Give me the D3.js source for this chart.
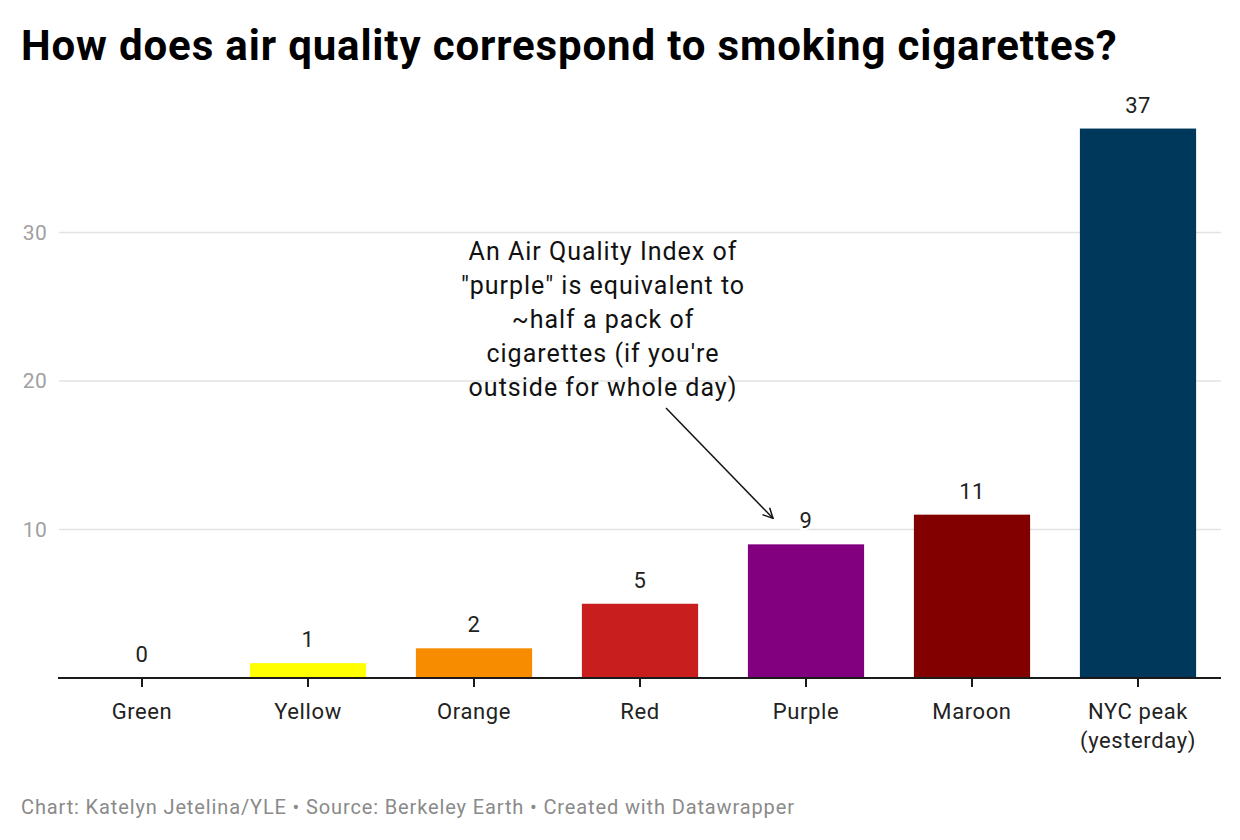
<!DOCTYPE html>
<html>
<head>
<meta charset="utf-8">
<script src="https://cdn.jsdelivr.net/npm/d3@7"></script>
<style>
  body { margin: 0; background: #fff; }
  svg text { font-family: Roboto, "Noto Sans", sans-serif; }
</style>
</head>
<body>
<svg id="chart" width="1240" height="840"></svg>
<script>
const categories = ["Green", "Yellow", "Orange", "Red", "Purple", "Maroon", "NYC peak\n(yesterday)"];
const values = [0, 1, 2, 5, 9, 11, 37];
const barColors = ["#2e9e44", "#ffff00", "#f88c00", "#c81e1e", "#820080", "#820000", "#00385c"];
const yTicks = [10, 20, 30];
const titleText = "How does air quality correspond to smoking cigarettes?";
const annotationLines = ["An Air Quality Index of", "\"purple\" is equivalent to", "~half a pack of", "cigarettes (if you're", "outside for whole day)"];
const footerText = "Chart: Katelyn Jetelina/YLE \u2022 Source: Berkeley Earth \u2022 Created with Datawrapper";

const svg = d3.select("#chart");
const left = 59, right = 1221, base = 678;

const x = d3.scaleBand().domain(categories).range([left, right]).paddingInner(0.3).paddingOuter(0.15);
const y = d3.scaleLinear().domain([0, 37]).range([base, base - 37 * 14.85]);

// title
svg.append("text").attr("x", 21).attr("y", 60)
  .attr("font-size", 42).attr("font-weight", 700).attr("fill", "#000")
  .attr("letter-spacing", 0.85)
  .text(titleText);

// gridlines
svg.append("g").selectAll("line").data(yTicks).join("line")
  .attr("x1", left).attr("x2", 1221)
  .attr("y1", d => y(d)).attr("y2", d => y(d))
  .attr("stroke", "#e3e3e3").attr("stroke-width", 1.5);

// y labels
svg.append("g").selectAll("text").data(yTicks).join("text")
  .attr("x", 47).attr("y", d => y(d)).attr("dy", "0.35em")
  .attr("text-anchor", "end").attr("font-size", 21).attr("fill", "#a0a0a0")
  .attr("letter-spacing", 0.3)
  .text(d => d);

// bars
svg.append("g").selectAll("rect").data(values).join("rect")
  .attr("x", (d, i) => x(categories[i]))
  .attr("width", x.bandwidth())
  .attr("y", d => y(d))
  .attr("height", d => base - y(d))
  .attr("fill", (d, i) => barColors[i]);

// value labels
svg.append("g").selectAll("text").data(values).join("text")
  .attr("x", (d, i) => x(categories[i]) + x.bandwidth() / 2)
  .attr("y", d => y(d) - 16)
  .attr("text-anchor", "middle").attr("font-size", 22).attr("fill", "#222")
  .attr("letter-spacing", 0.5)
  .attr("stroke", "#fff").attr("stroke-width", 5).attr("paint-order", "stroke")
  .text(d => d);

// x axis
const xAxis = d3.axisBottom(x).tickSize(9).tickFormat("");
const gx = svg.append("g").attr("transform", `translate(0,${base})`).call(xAxis);
gx.select(".domain").attr("stroke", "#1a1a1a").attr("stroke-width", 2).attr("d", `M${left - 1},0H${right}`);
gx.selectAll(".tick line").attr("stroke", "#1a1a1a").attr("stroke-width", 2);

// x labels
const xl = svg.append("g").selectAll("text").data(categories).join("text")
  .attr("x", d => x(d) + x.bandwidth() / 2)
  .attr("y", 719)
  .attr("text-anchor", "middle").attr("font-size", 22).attr("fill", "#222")
  .attr("letter-spacing", 0.6);
xl.each(function(d) {
  const parts = d.split("\n");
  const t = d3.select(this);
  parts.forEach((p, i) => {
    t.append("tspan").attr("x", x(d) + x.bandwidth() / 2).attr("dy", i === 0 ? 0 : 29).text(p);
  });
});

// annotation
const ann = svg.append("text").attr("x", 603).attr("y", 260)
  .attr("text-anchor", "middle").attr("font-size", 25).attr("fill", "#111")
  .attr("letter-spacing", 1);
annotationLines.forEach((l, i) => {
  ann.append("tspan").attr("x", 603).attr("dy", i === 0 ? 0 : 34).text(l);
});

// arrow
const defs = svg.append("defs");
defs.append("marker").attr("id", "arr").attr("viewBox", "0 0 12 12")
  .attr("refX", 11).attr("refY", 6).attr("markerWidth", 12).attr("markerHeight", 12)
  .attr("markerUnits", "userSpaceOnUse").attr("orient", "auto")
  .append("path").attr("d", "M1,1 L11,6 L1,11").attr("fill", "none")
  .attr("stroke", "#111").attr("stroke-width", 1.5);
const purpleX = x("Purple") + x.bandwidth() / 2;
svg.append("line")
  .attr("x1", 666).attr("y1", 408)
  .attr("x2", purpleX - 33).attr("y2", y(values[4]) - 26)
  .attr("stroke", "#111").attr("stroke-width", 1.5)
  .attr("marker-end", "url(#arr)");

// footer
svg.append("text").attr("x", 21).attr("y", 814)
  .attr("font-size", 20).attr("fill", "#8a8a8a")
  .attr("letter-spacing", 0.87)
  .text(footerText);
</script>
</body>
</html>
